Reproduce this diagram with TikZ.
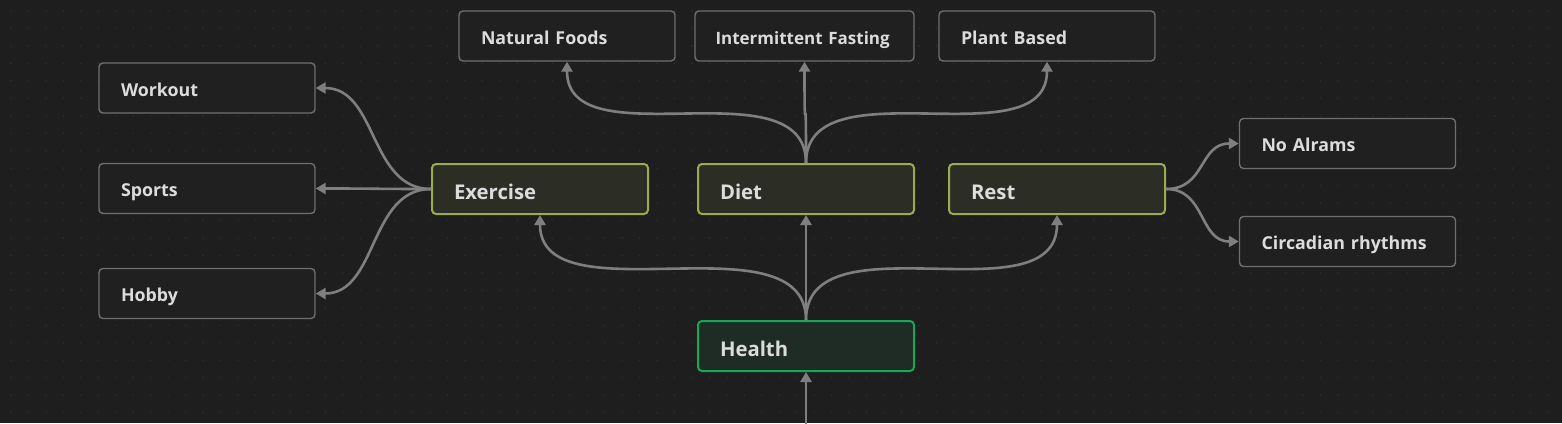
\documentclass[tikz,border=0pt]{standalone}
\usepackage{fontspec}
\setmainfont{Open Sans}
\usetikzlibrary{arrows.meta}

\definecolor{bgc}{HTML}{1E1E1E}
\definecolor{dotc}{HTML}{2E2E2E}
\definecolor{txtc}{HTML}{DCDCDC}
\definecolor{boxc}{HTML}{202020}
\definecolor{boxd}{HTML}{6F6F6F}
\definecolor{mainc}{HTML}{2C2D25}
\definecolor{maind}{HTML}{98AD52}
\definecolor{rootc}{HTML}{1F2B25}
\definecolor{rootd}{HTML}{15A957}
\definecolor{edgec}{HTML}{7F7F7F}

\begin{document}
\begin{tikzpicture}[
	x=1pt, y=-1pt,
	topic/.style={ draw=boxd, fill=boxc, line width=1.4pt, rounded corners=4pt, text=txtc, minimum width=216pt, minimum height=50pt, text width=172pt, inner xsep=22pt, inner ysep=0pt, align=left, text height=16.5pt, text depth=0pt, font=\fontsize{17.8}{20}\selectfont\bfseries },
	topicm/.style={ topic, draw=maind, fill=mainc, line width=2pt, text height=20pt, font=\fontsize{20.3}{23}\selectfont\bfseries },
	topicr/.style={ topicm, draw=rootd, fill=rootc },
	edge/.style={ draw=edgec, line width=2.6pt, -{Triangle[length=10pt,width=11pt]} }
]

\fill[bgc] (0,0) rectangle (1562,423);
\useasboundingbox (0,0) rectangle (1562,423);
\foreach \i in {0,...,89} \foreach \j in {0,...,23} \fill[dotc] (11+17.46*\i,11+17.46*\j) circle (0.9);

\node[topicr] at (806,346) (hl) {Health};
\node[topicm] at (540,189) (ex) {Exercise};
\node[topicm] at (806,189) (dt) {Diet};
\node[topicm] at (1057,189) (rs) {Rest};

\node[topic] at (207,88) (ex1) {Workout};
\node[topic] at (207,188.5) (ex2) {Sports};
\node[topic] at (207,293.5) (ex3) {Hobby};
\node[topic] at (567,36) (dt1) {Natural Foods};
\node[topic, text width=178pt, inner xsep=20.5pt, font=\fontsize{17}{20}\selectfont\bfseries] at (804.5,36) (dt2) {Intermittent Fasting};
\node[topic] at (1047,36) (dt3) {Plant Based};
\node[topic] at (1347.5,143.5) (rs1) {No Alrams};
\node[topic] at (1347.5,241.5) (rs2) {Circadian rhythms};

\coordinate (hlin) at (806,430);
\draw[edge] (hlin) -- (hl.south);

\foreach \p in {ex,dt,rs} \draw[edge] (hl.north) .. controls +(0,-105) and +(0,105) .. (\p.south);
\foreach \p in {dt1,dt2,dt3} \draw[edge] (dt.north) .. controls +(0,-100) and +(0,100) .. (\p.south);
\foreach \p in {ex1,ex2,ex3} \draw[edge] (ex.west) .. controls +(-62,0) and +(62,0) .. (\p.east);
\foreach \p in {rs1,rs2} \draw[edge] (rs.east) .. controls +(40,0) and +(-40,0) .. (\p.west);

\end{tikzpicture}
\end{document}
